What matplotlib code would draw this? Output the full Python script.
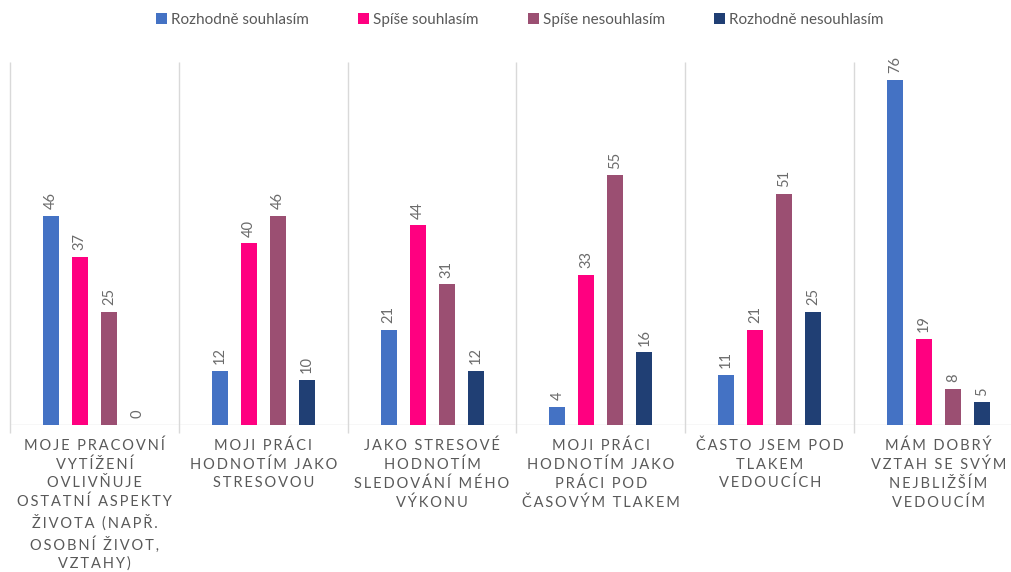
import matplotlib
matplotlib.use("Agg")
import matplotlib.pyplot as plt
import numpy as np

plt.rcParams["font.family"] = ["Lato", "DejaVu Sans"]

categories = [
    "MOJE PRACOVNÍ\nVYTÍŽENÍ\nOVLIVŇUJE\nOSTATNÍ ASPEKTY\nŽIVOTA (NAPŘ.\nOSOBNÍ ŽIVOT,\nVZTAHY)",
    "MOJI PRÁCI\nHODNOTÍM JAKO\nSTRESOVOU",
    "JAKO STRESOVÉ\nHODNOTÍM\nSLEDOVÁNÍ MÉHO\nVÝKONU",
    "MOJI PRÁCI\nHODNOTÍM JAKO\nPRÁCI POD\nČASOVÝM TLAKEM",
    "ČASTO JSEM POD\nTLAKEM\nVEDOUCÍCH",
    "MÁM DOBRÝ\nVZTAH SE SVÝM\nNEJBLIŽŠÍM\nVEDOUCÍM",
]
series_names = ["Rozhodně souhlasím", "Spíše souhlasím", "Spíše nesouhlasím", "Rozhodně nesouhlasím"]
rozhodne_souhlasim = [46, 12, 21, 4, 11, 76]
spise_souhlasim = [37, 40, 44, 33, 21, 19]
spise_nesouhlasim = [25, 46, 31, 55, 51, 8]
rozhodne_nesouhlasim = [0, 10, 12, 16, 25, 5]

colors = ["#4472C4", "#FF0080", "#9B4F72", "#203F74"]
values = [rozhodne_souhlasim, spise_souhlasim, spise_nesouhlasim, rozhodne_nesouhlasim]

grey = "#595959"


def spaced(text):
    # emulate Excel's wide letter spacing
    return "\n".join("\u2009".join(line) for line in text.split("\n"))


fig = plt.figure(figsize=(10.12, 5.72), dpi=100)
ax = fig.add_axes([10 / 1012, 1 - 425 / 572, 1013 / 1012, (425 - 62) / 572])

x = np.arange(len(categories))
step = 0.172
width = 0.095
for k, (name, vals, c) in enumerate(zip(series_names, values, colors)):
    pos = x + (k - 1.5) * step
    ax.bar(pos, vals, width=width, color=c, label=name, zorder=3)
    for p, v in zip(pos, vals):
        ax.text(p, v + 1.5, str(v), rotation=90, ha="center", va="bottom",
                color="#6b6b6b", fontsize=10.5)

ax.set_xlim(-0.5, len(categories) - 0.5)
ax.set_ylim(0, 80)
ax.vlines(np.arange(len(categories) + 1) - 0.5, -1.8, 80, color="#D9D9D9",
          linewidth=1, clip_on=False, zorder=1)
ax.axhline(0, color="#D9D9D9", linewidth=1, zorder=2)

for s in ax.spines.values():
    s.set_visible(False)
ax.set_yticks([])
ax.set_xticks(x)
ax.set_xticklabels([spaced(c) for c in categories], fontsize=10.5, color=grey,
                   linespacing=1.38, ha="center")
ax.tick_params(axis="x", length=0, pad=10)

leg = fig.legend(loc="center", bbox_to_anchor=(520 / 1012, 1 - 20 / 572), ncol=4,
                 frameon=False, fontsize=11, handlelength=0.7, handleheight=0.7,
                 handletextpad=0.3, columnspacing=3.2)
for t in leg.get_texts():
    t.set_color(grey)

fig.savefig("out.png", dpi=100)
